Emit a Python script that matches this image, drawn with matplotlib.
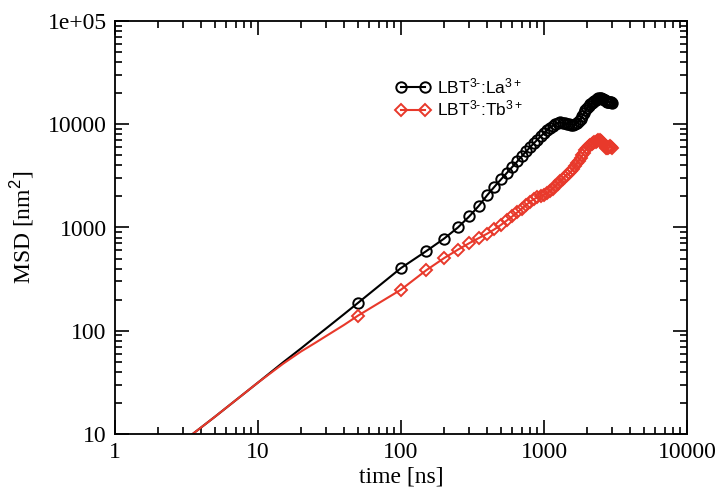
import numpy as np
import matplotlib
matplotlib.use("Agg")
import matplotlib.pyplot as plt
from matplotlib.ticker import LogLocator, FixedLocator, FixedFormatter, NullFormatter

plt.rcParams['mathtext.fontset'] = 'custom'
plt.rcParams['mathtext.rm'] = 'Liberation Sans'
plt.rcParams['mathtext.it'] = 'Liberation Sans:italic'

# time points [ns]: a few early frames, then every 50 ns (symbol positions)
t_early = [2, 3, 5, 10, 15, 20, 25, 30, 40]
t_main = [50, 100, 150, 200, 250, 300, 350, 400, 450, 500,
          550, 600, 650, 700, 750, 800, 850, 900, 950, 1000,
          1050, 1100, 1150, 1200, 1250, 1300, 1350, 1400, 1450, 1500,
          1550, 1600, 1650, 1700, 1750, 1800, 1850, 1900, 1950, 2000,
          2050, 2100, 2150, 2200, 2250, 2300, 2350, 2400, 2450, 2500,
          2550, 2600, 2650, 2700, 2750, 2800, 2850, 2900, 2950, 3000]

# MSD [nm^2], LBT3-:La3+
la_early = [5.5, 8.5, 14.7, 31.5, 49.5, 67.5, 86.5, 105.5, 145]
la_main = [186, 405, 590, 780, 1000, 1280, 1620, 2050, 2480, 2920,
           3380, 3860, 4360, 4900, 5450, 6000, 6550, 7100, 7650, 8200,
           8750, 9250, 9700, 10050, 10300, 10400, 10350, 10200, 10050, 9950,
           9900, 9900, 10000, 10250, 10700, 11300, 12000, 12800, 13600, 14400,
           15100, 15600, 16100, 16500, 16900, 17200, 17500, 17800, 17900, 17900,
           17700, 17400, 17000, 16700, 16500, 16400, 16400, 16500, 16400, 16200]

# MSD [nm^2], LBT3-:Tb3+
tb_early = [5.5, 8.5, 14.7, 31.5, 48, 63, 76, 89, 114]
tb_main = [140, 250, 385, 505, 610, 705, 790, 870, 960, 1060,
           1170, 1280, 1400, 1520, 1650, 1780, 1880, 1960, 2020, 2080,
           2150, 2250, 2380, 2520, 2660, 2800, 2950, 3100, 3250, 3350,
           3500, 3700, 3950, 4200, 4450, 4700, 5000, 5300, 5650, 5900,
           6100, 6250, 6400, 6550, 6700, 6800, 6900, 7000, 7000, 6900,
           6700, 6400, 6100, 5900, 5850, 5900, 6000, 6100, 6000, 5850]

red = '#e8392b'
t = t_early + t_main
marks = list(range(len(t_early), len(t)))

fig = plt.figure(figsize=(7.24, 4.9), dpi=100)
ax = fig.add_axes([115/724, 56/490, 572/724, 413/490])

ax.plot(t, la_early + la_main, color='black', lw=1.5, marker='o', markevery=marks,
        ms=7.5, mfc='none', mec='black', mew=1.4, label=r'LBT$^{3\text{-}}$:La$^{3+}$')
ax.plot(t, tb_early + tb_main, color=red, lw=1.5, marker='D', markevery=marks,
        ms=6.5, mfc='none', mec=red, mew=1.4, label=r'LBT$^{3\text{-}}$:Tb$^{3+}$')

ax.set_xscale('log')
ax.set_yscale('log')
ax.set_xlim(1, 10000)
ax.set_ylim(10, 1e5)

ax.xaxis.set_major_locator(FixedLocator([1, 10, 100, 1000, 10000]))
ax.xaxis.set_major_formatter(FixedFormatter(['1', '10', '100', '1000', '10000']))
ax.yaxis.set_major_locator(FixedLocator([10, 100, 1000, 10000, 1e5]))
ax.yaxis.set_major_formatter(FixedFormatter(['10', '100', '1000', '10000', '1e+05']))
for a in (ax.xaxis, ax.yaxis):
    a.set_minor_locator(LogLocator(base=10, subs=np.arange(2, 10), numticks=20))
    a.set_minor_formatter(NullFormatter())

ax.tick_params(which='both', direction='in', top=True, right=True, width=1.2)
ax.tick_params(which='major', length=10, labelsize=17, pad=6)
ax.tick_params(which='minor', length=5)
for lab in ax.get_xticklabels() + ax.get_yticklabels():
    lab.set_family('Liberation Serif')
for s in ax.spines.values():
    s.set_linewidth(1.3)

ax.set_xlabel('time [ns]', fontsize=17, family='Liberation Serif', labelpad=2)
ax.set_ylabel(r'MSD [nm$^{2}$]', fontsize=17, family='Liberation Serif', labelpad=8)

ax.legend(loc='upper left', bbox_to_anchor=(0.475, 0.887), frameon=False, numpoints=2,
          handlelength=2.0, handletextpad=0.4, labelspacing=0.15, borderpad=0,
          prop={'family': 'Liberation Sans', 'size': 12.5})

fig.savefig('out.png', dpi=100)
